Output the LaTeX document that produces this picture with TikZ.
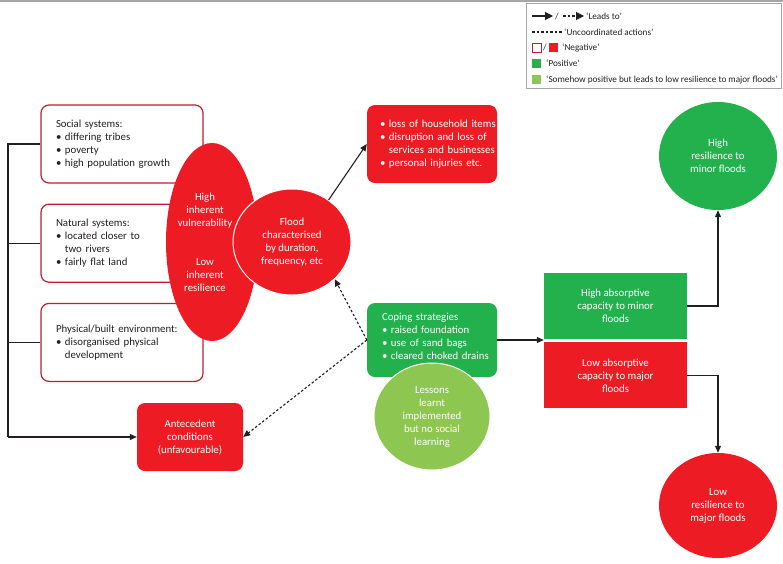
\documentclass[tikz,border=0pt]{standalone}
\usepackage{fontspec}
\setmainfont{Carlito}
\usetikzlibrary{arrows.meta,positioning,shapes.geometric}
\definecolor{FloodRed}{HTML}{ED1C24}
\definecolor{EdgeRed}{HTML}{BE1E2D}
\definecolor{CopeGreen}{HTML}{22B14C}
\definecolor{LessonGreen}{HTML}{8DC650}
\definecolor{InkGray}{HTML}{231F20}
\definecolor{RuleGray}{HTML}{A6A6A6}
\newcommand{\kbul}{\textbullet\ }
\newcommand{\kind}{\hphantom{\textbullet\ }}

\begin{document}
\begin{tikzpicture}[x=1pt, y=-1pt,
      font=\fontsize{10.8}{13}\selectfont,
      wbox/.style={draw=EdgeRed, line width=1.2pt, fill=white, rounded corners=8pt,
                   minimum width=162pt, minimum height=78pt, inner sep=0pt,
                   text width=132pt, align=left, text=InkGray},
      rbox/.style={fill=FloodRed, rounded corners=8pt, inner sep=0pt, text=white},
      gbox/.style={fill=CopeGreen, inner sep=0pt, text=white, align=center},
      blob/.style={ellipse, inner sep=0pt, align=center, text=white},
      blobtxt/.style={inner sep=0pt, align=center, text=white},
      conn/.style={draw=InkGray, line width=1.1pt},
      lead/.style={conn, -{Triangle[length=7pt,width=6pt]}},
      uncoord/.style={lead, dash pattern=on 2.5pt off 2pt},
      keytxt/.style={anchor=west, inner sep=0pt, font=\fontsize{9.2}{11}\selectfont, text=InkGray},
      keysq/.style={minimum size=9pt, inner sep=0pt},
      node distance=20pt
    ]
      \useasboundingbox (0,0) rectangle (783,563);
      \draw[RuleGray, line width=1.5pt] (0,0.75) -- (783,0.75);

      % key
      \node[draw=RuleGray, line width=0.6pt, minimum width=255pt, minimum height=85pt, inner sep=0pt] (key) at (653.5,45.5) {};
      \coordinate (keyA) at (532,16);
      \coordinate (keyB) at (563,16);
      \coordinate (keyC) at (532,32);
      \draw[lead, -{Triangle[length=8pt,width=8pt]}] (keyA) -- ++(21,0);
      \node[keytxt] (keySlashA) at (555,16) {/};
      \draw[uncoord, -{Triangle[length=8pt,width=8pt]}] (keyB) -- ++(21,0);
      \node[keytxt] (keyLead) at (586,16) {‘Leads to’};
      \draw[conn, dash pattern=on 2.5pt off 2pt] (keyC) -- ++(30,0);
      \node[keytxt] (keyUnco) at (564,32) {‘Uncoordinated actions’};
      \node[keysq, draw=EdgeRed, line width=0.8pt, fill=white] (keyNegA) at (536.5,47.5) {};
      \node[keytxt] (keySlashB) at (543,47.5) {/};
      \node[keysq, fill=FloodRed] (keyNegB) at (553.5,47.5) {};
      \node[keytxt] (keyNeg) at (562,47.5) {‘Negative’};
      \node[keysq, fill=CopeGreen] (keyPos) at (536.5,63.5) {};
      \node[keytxt] (keyPosT) at (546,63.5) {‘Positive’};
      \node[keysq, fill=LessonGreen] (keySome) at (536.5,79.5) {};
      \node[keytxt] (keySomeT) at (546,79.5) {‘Somehow positive but leads to low resilience to major floods’};

      % inherent systems
      \node[wbox] (social) at (122,144) {Social systems:\\\kbul differing tribes\\\kbul poverty\\\kbul high population growth};
      \node[wbox, below=of social] (natural) {Natural systems:\\\kbul located closer to\\\kind two rivers\\\kbul fairly flat land};
      \node[wbox, below=of natural] (physical) {Physical/built environment:\\\kbul disorganised physical\\\kind development};

      \node[blob, fill=FloodRed, minimum width=92pt, minimum height=198pt] (vuln) at (212,242) {};
      \node[blobtxt] (vulntxt) at ([xshift=-7pt]vuln.center)
        {High\\inherent\\vulnerability\\[26pt]Low\\inherent\\resilience};
      \node[blob, fill=FloodRed, draw=white, line width=1pt, minimum width=118pt, minimum height=106pt] (flood) at (292,242)
        {Flood\\characterised\\by duration,\\frequency, etc};

      \node[rbox, minimum width=130pt, minimum height=78pt, text width=104pt, align=left] (impacts) at (432,144)
        {\mbox{\kbul loss of household items}\\\mbox{\kbul disruption and loss of}\\\mbox{\kind services and businesses}\\\mbox{\kbul personal injuries etc.}};
      \node[rbox, minimum width=106pt, minimum height=68pt, align=center] (antec) at (190,437)
        {Antecedent\\conditions\\(unfavourable)};

      % coping
      \node[gbox, rounded corners=8pt, minimum width=130pt, minimum height=74pt, text width=100pt, align=left] (coping) at (432,340)
        {Coping strategies\\\mbox{\kbul raised foundation}\\\mbox{\kbul use of sand bags}\\\mbox{\kbul cleared choked drains}\\[-6pt]\mbox{}};
      \node[blob, fill=LessonGreen, draw=white, line width=1pt, minimum width=116pt, minimum height=107pt] (lessons) at (432,416.5)
        {Lessons\\learnt\\implemented\\but no social\\learning};

      \node[gbox, minimum width=143pt, minimum height=66pt] (absHi) at (615.5,306)
        {High absorptive\\capacity to minor\\floods};
      \node[gbox, fill=FloodRed, minimum width=143pt, minimum height=66pt, below=3pt of absHi] (absLo)
        {Low absorptive\\capacity to major\\floods};

      \node[blob, fill=CopeGreen, minimum width=118pt, minimum height=108pt] (hiRes) at (718,156)
        {High\\resilience to\\minor floods};
      \node[blob, fill=FloodRed, minimum width=118pt, minimum height=105pt] (loRes) at (718,505.5)
        {Low\\resilience to\\major floods};

      % connectors
      \coordinate (brk) at (8,437);
      \draw[conn] (social.west) -- (social.west -| brk) -- (brk);
      \draw[conn] (natural.west) -- (natural.west -| brk);
      \draw[conn] (physical.west) -- (physical.west -| brk);
      \draw[lead] (brk) -- (antec.west);
      \draw[lead] (flood.49) -- (impacts.west);
      \draw[uncoord] (coping.west) -- (flood.-41);
      \draw[uncoord] (coping.west) -- (antec.east);
      \draw[lead] (coping.east) -- (coping.east -| absHi.west);
      \draw[lead] (absHi.east) -| (hiRes.south);
      \draw[lead] (absLo.east) -| (loRes.north);
    \end{tikzpicture}
\end{document}
